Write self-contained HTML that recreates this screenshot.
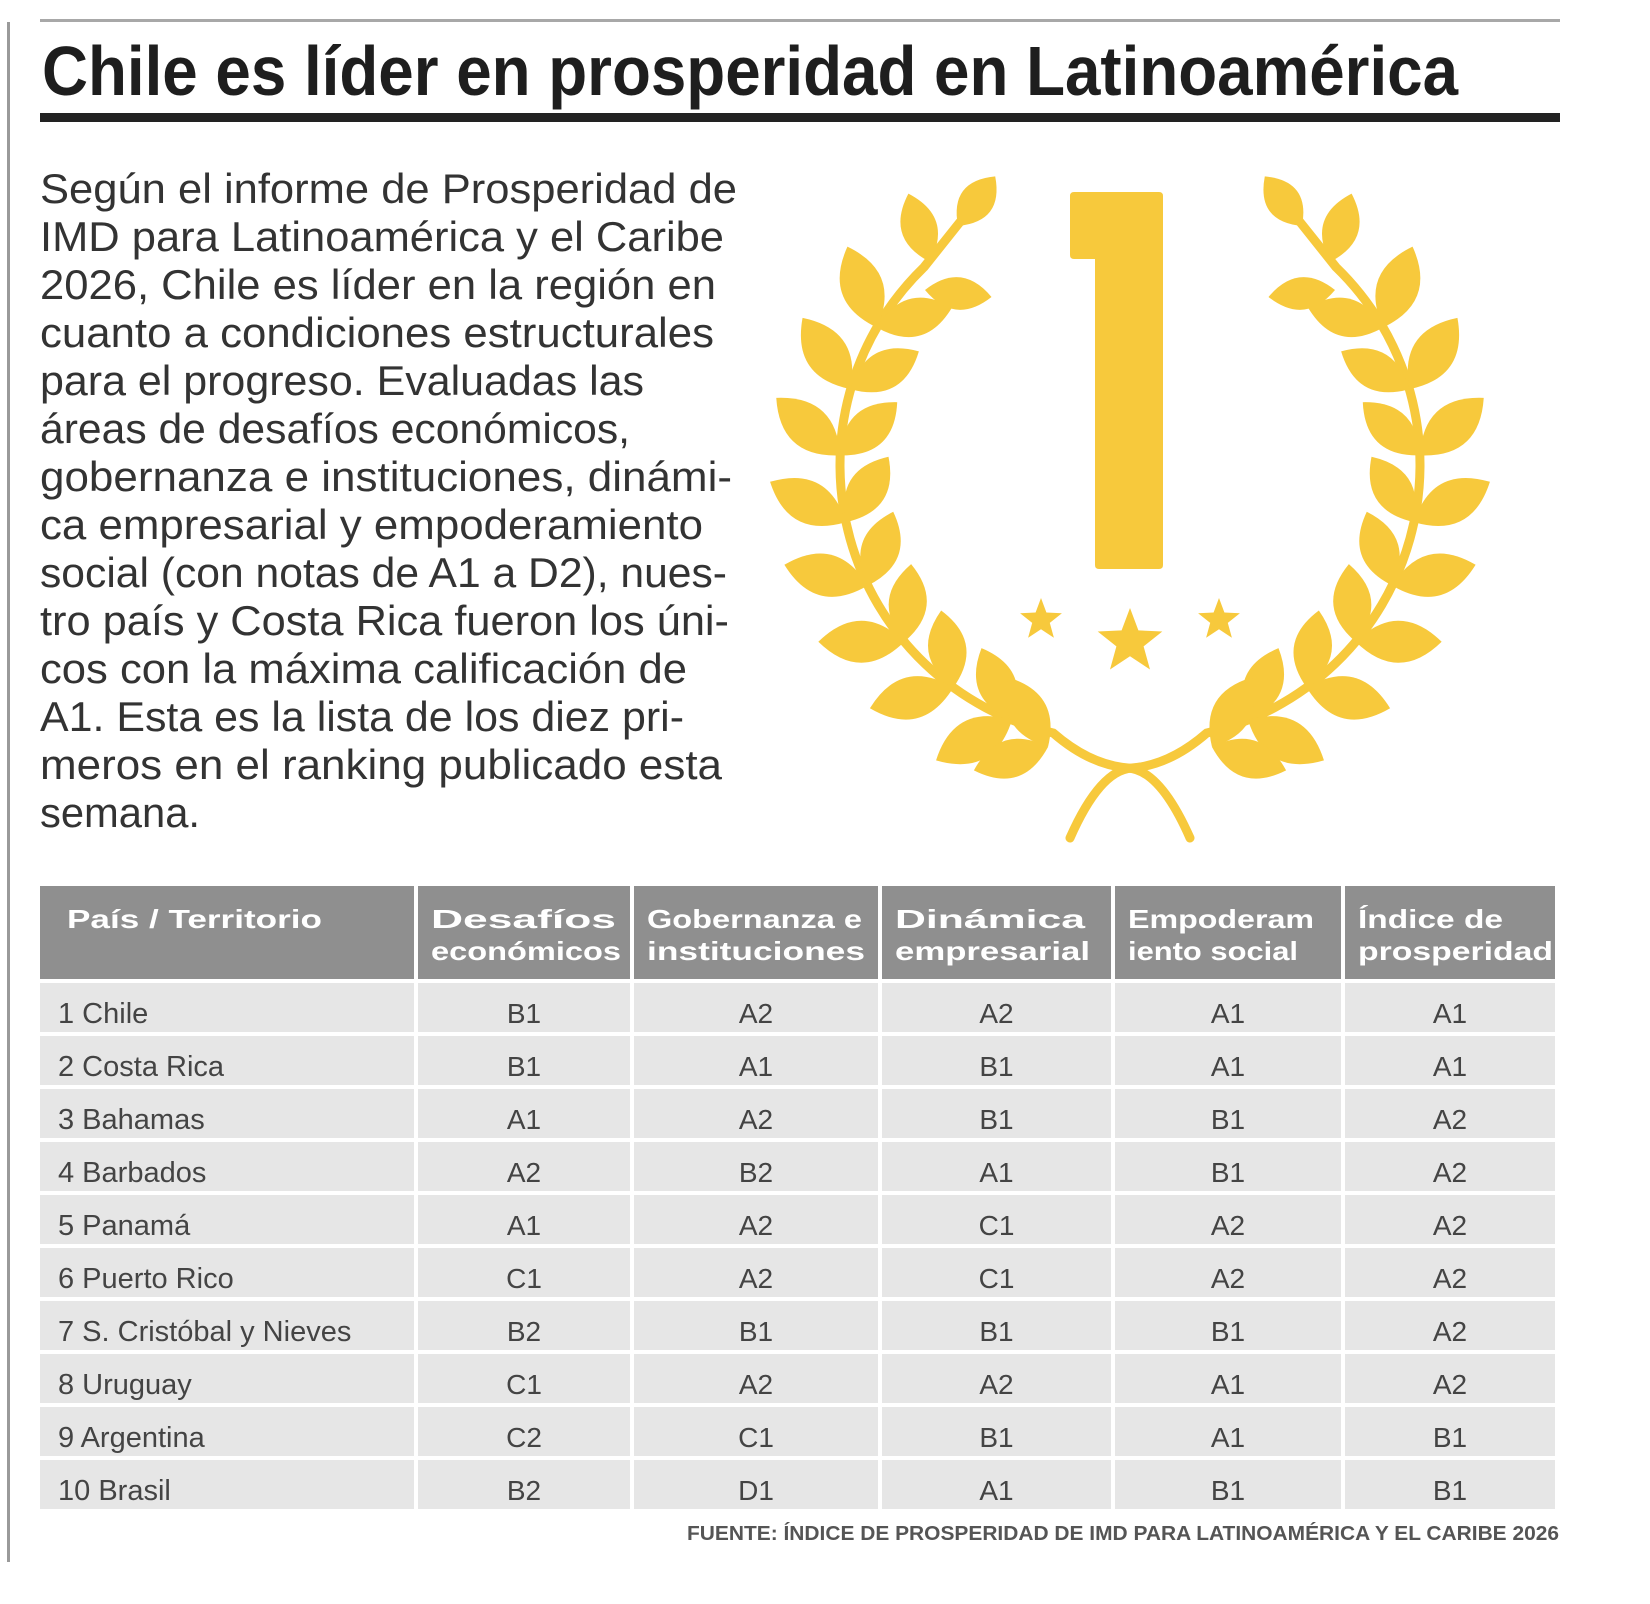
<!DOCTYPE html>
<html><head><meta charset="utf-8">
<style>
html,body{margin:0;padding:0;background:#fff;}
svg{display:block;}
text{font-family:"Liberation Sans",sans-serif;}
</style></head>
<body>
<svg id="root" width="1650" height="1604" viewBox="0 0 1650 1604" xmlns="http://www.w3.org/2000/svg">
  <rect x="0" y="0" width="1650" height="1604" fill="#fff"/>
  <rect x="7" y="22" width="3" height="1540" fill="#9a9a9a"/>
  <rect x="40" y="19" width="1520" height="3" fill="#a8a8a8"/>
  <text x="42" y="95" font-size="70" font-weight="bold" fill="#1e1e1e" textLength="1416" lengthAdjust="spacingAndGlyphs">Chile es líder en prosperidad en Latinoamérica</text>
  <rect x="40" y="113" width="1520" height="9" fill="#222"/>
  <g id="body" fill="#333" font-size="42"></g>
  <g id="laurel"></g>
  <g id="table"></g>
  <text x="1559" y="1540" font-size="20" font-weight="bold" fill="#555" text-anchor="end" textLength="872" lengthAdjust="spacingAndGlyphs">FUENTE: ÍNDICE DE PROSPERIDAD DE IMD PARA LATINOAMÉRICA Y EL CARIBE 2026</text>
</svg>
<script>
const countries = ["1 Chile","2 Costa Rica","3 Bahamas","4 Barbados","5 Panamá","6 Puerto Rico","7 S. Cristóbal y Nieves","8 Uruguay","9 Argentina","10 Brasil"];
const desafios = ["B1","B1","A1","A2","A1","C1","B2","C1","C2","B2"];
const gobernanza = ["A2","A1","A2","B2","A2","A2","B1","A2","C1","D1"];
const dinamica = ["A2","B1","B1","A1","C1","C1","B1","A2","B1","A1"];
const empoderamiento = ["A1","A1","B1","B1","A2","A2","B1","A1","A1","B1"];
const indice = ["A1","A1","A2","A2","A2","A2","A2","A2","B1","B1"];
const headers = [["País / Territorio"],["Desafíos","económicos"],["Gobernanza e","instituciones"],["Dinámica","empresarial"],["Empoderam","iento social"],["Índice de","prosperidad"]];
const bodyLines = ["Según el informe de Prosperidad de","IMD para Latinoamérica y el Caribe","2026, Chile es líder en la región en","cuanto a condiciones estructurales","para el progreso. Evaluadas las","áreas de desafíos económicos,","gobernanza e instituciones, dinámi-","ca empresarial y empoderamiento","social (con notas de A1 a D2), nues-","tro país y Costa Rica fueron los úni-","cos con la máxima calificación de","A1. Esta es la lista de los diez pri-","meros en el ranking publicado esta","semana."];

const NS="http://www.w3.org/2000/svg";
function mk(tag, attrs, parent){const e=document.createElementNS(NS,tag);for(const k in attrs)e.setAttribute(k,attrs[k]);parent.appendChild(e);return e;}

const lineW=[700,688,680,678,612,598,695,668,690,692,652,650,686,190];
const body=document.getElementById('body');
bodyLines.forEach((l,i)=>{
  const t=mk('text',{x:40,y:203+i*48,textLength:Math.round((lineW[i]-38)*1.053),lengthAdjust:'spacingAndGlyphs'},body);
  t.textContent=l;
  
  
});

const gold="#F7C93C";
const L=document.getElementById('laurel');
function branch(g){
  const cx=1115, cy=465, r=275;
  const rad=a=>a*Math.PI/180;
  const a0=rad(103), a1=rad(226);
  const p=a=>[cx+r*Math.cos(a), cy+r*Math.sin(a)];
  const s0=p(a0), s1=p(a1);
  const stem=mk('path',{d:`M${1190},${838} Q1160,770 1128,768 Q1090,765 ${s0[0]},${s0[1]} A${r},${r} 0 0 1 ${s1[0]},${s1[1]} L960,222`,fill:'none',stroke:gold,'stroke-width':9,'stroke-linecap':'round'},g);
  
  
  function leaf(px,py,dx,dy,len,w){
    const tx=px+dx*len, ty=py+dy*len, mx=(px+tx)/2, my=(py+ty)/2, nx=-dy, ny=dx;
    const e=mk('path',{d:`M${px},${py} Q${mx+nx*w},${my+ny*w} ${tx},${ty} Q${mx-nx*w},${my-ny*w} ${px},${py}Z`,fill:gold},g);
    
    
  }
  for(let deg=112; deg<=222; deg+=14){
    const a=rad(deg); const [px,py]=p(a);
    const tx=-Math.sin(a), ty=Math.cos(a), nx=Math.cos(a), ny=Math.sin(a);
    const co=Math.cos(rad(50)), si=Math.sin(rad(50));
    leaf(px,py,tx*co+nx*si,ty*co+ny*si,86,42);
    const ci=Math.cos(rad(45)), sn=Math.sin(rad(45));
    leaf(px,py,tx*ci-nx*sn,ty*ci-ny*sn,78,38);
  }
  leaf(1048,747,-0.5,-0.87,80,38);
  leaf(1048,747,-0.95,0.3,78,38);
  leaf(958,226,0.6,-0.8,62,34);
  leaf(930,262,-0.3,-0.95,72,36);
  leaf(925,290,0.95,0.1,70,34);
}
const gl=mk('g',{},L); branch(gl);
const gr=mk('g',{transform:'translate(2260,0) scale(-1,1)'},L); branch(gr);
const one=mk('path',{d:'M1070,196 Q1070,192 1074,192 L1159,192 Q1163,192 1163,196 L1163,565 Q1163,569 1159,569 L1099,569 Q1095,569 1095,565 L1095,259 L1074,259 Q1070,259 1070,255 Z',fill:gold},L);


function star(cx,cy,R){let d='';for(let i=0;i<10;i++){const rr=i%2?R*0.42:R;const a=-Math.PI/2+i*Math.PI/5;d+=(i?'L':'M')+(cx+rr*Math.cos(a)).toFixed(1)+','+(cy+rr*Math.sin(a)).toFixed(1);}
  const s=mk('path',{d:d+'Z',fill:gold},L);
  
  }
star(1041,620,22); star(1130,642,34); star(1219,620,22);

const T=document.getElementById('table');
const colX=[40,418,634,882,1115,1345,1559];
const headTop=886, headBot=983, rowH=53, gap=4;
const headW=[[255],[185,190],[215,218],[190,195],[186,170],[145,195]];
headers.forEach((h,c)=>{
  const r=mk('rect',{x:colX[c],y:headTop,width:colX[c+1]-colX[c]-gap,height:headBot-headTop-gap,fill:'#8f8f8f'},T);
  
  
  h.forEach((ln,j)=>{
    const t=mk('text',{x:colX[c]+(c===0?27:13),y:928+j*32,'font-size':26,'font-weight':'bold',fill:'#fff',textLength:headW[c][j],lengthAdjust:'spacingAndGlyphs'},T);
    t.textContent=ln;
    
    
  });
});
const cols=[desafios,gobernanza,dinamica,empoderamiento,indice];
countries.forEach((name,i)=>{
  const y=headBot+i*rowH;
  for(let c=0;c<6;c++){
    const r=mk('rect',{x:colX[c],y:y,width:colX[c+1]-colX[c]-gap,height:rowH-gap,fill:'#e6e6e6'},T);
    
    
  }
  const t=mk('text',{x:58,y:y+40,'font-size':29,fill:'#444'},T);
  t.textContent=name;
  
  
  cols.forEach((arr,k)=>{
    const c=k+1;
    const v=mk('text',{x:(colX[c]+colX[c+1]-gap)/2,y:y+40,'font-size':28,fill:'#444','text-anchor':'middle'},T);
    v.textContent=arr[i];
    
    
  });
});
</script>
</body></html>
